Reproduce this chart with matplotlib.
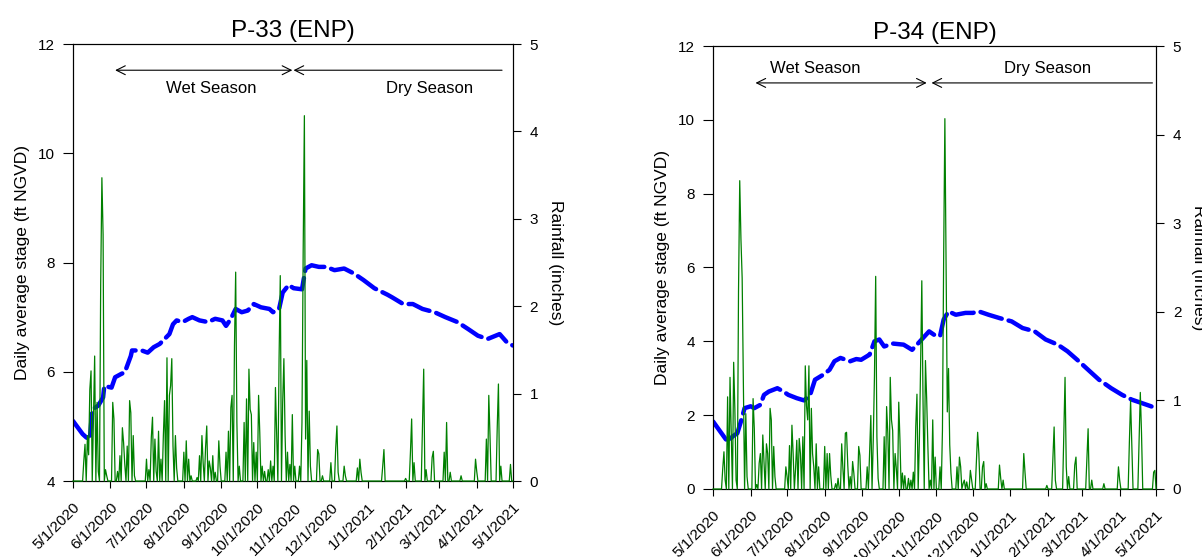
import matplotlib
matplotlib.use("Agg")
import matplotlib.pyplot as plt
import numpy as np
import pandas as pd

plt.rcParams["font.family"] = ["Liberation Sans", "DejaVu Sans"]

START = pd.Timestamp("2020-05-01")
END = pd.Timestamp("2021-05-01")

tick_labels = ["5/1/2020", "6/1/2020", "7/1/2020", "8/1/2020", "9/1/2020",
               "10/1/2020", "11/1/2020", "12/1/2020", "1/1/2021", "2/1/2021",
               "3/1/2021", "4/1/2021", "5/1/2021"]

# ---- P-33: daily average stage (ft NGVD), read at days since 5/1/2020 ----
p33_stage_day = [0, 8, 11, 14, 16, 21, 25, 26, 32, 35, 40, 43, 48, 49, 57, 62, 67,
                 72, 80, 83, 86, 91, 96, 99, 105, 112, 118, 124, 127, 131, 135, 140,
                 145, 150, 156, 163, 166, 171, 174, 179, 183, 190, 193, 198, 204, 210,
                 217, 225, 233, 241, 250, 261, 265, 274, 282, 290, 300, 309, 319, 328,
                 336, 344, 354, 360, 365]
p33_stage_ft = [5.10, 4.86, 4.80, 4.76, 5.31, 5.38, 5.53, 5.74, 5.71, 5.90, 5.96, 5.99,
                6.29, 6.39, 6.39, 6.35, 6.45, 6.51, 6.69, 6.87, 6.94, 6.91, 6.97, 7.00,
                6.94, 6.91, 6.97, 6.94, 6.84, 6.97, 7.15, 7.09, 7.12, 7.24, 7.18, 7.15,
                7.09, 7.15, 7.45, 7.59, 7.53, 7.51, 7.89, 7.95, 7.92, 7.92, 7.86, 7.89,
                7.80, 7.68, 7.53, 7.41, 7.36, 7.24, 7.24, 7.15, 7.09, 7.00, 6.91, 6.78,
                6.66, 6.60, 6.69, 6.54, 6.48]

# ---- P-33: rainfall (inches), non-zero days only ----
p33_rain_day = [9, 10, 12, 13, 14, 15, 17, 18, 20, 21, 23, 24, 25, 27, 28, 33, 34, 37,
                39, 41, 42, 43, 45, 47, 48, 50, 51, 61, 63, 65, 66, 68, 69, 71, 73, 75,
                76, 78, 80, 81, 82, 83, 85, 86, 92, 94, 96, 98, 103, 105, 107, 108, 110,
                111, 113, 114, 116, 118, 121, 122, 127, 129, 131, 132, 134, 135, 136,
                138, 142, 144, 146, 147, 148, 150, 152, 154, 155, 157, 159, 162, 164,
                166, 168, 169, 171, 172, 174, 175, 176, 178, 180, 182, 184, 188, 190,
                191, 192, 193, 194, 196, 197, 203, 204, 207, 214, 218, 219, 220, 225,
                226, 236, 238, 239, 257, 258, 276, 280, 281, 283, 290, 291, 293, 298,
                299, 308, 310, 313, 322, 334, 335, 343, 345, 346, 352, 353, 355, 363]
p33_rain_in = [0.23, 0.42, 0.52, 0.30, 1.05, 1.26, 0.71, 1.43, 0.90, 0.11, 2.25, 3.47,
               2.82, 0.13, 0.06, 0.90, 0.71, 0.11, 0.29, 0.61, 0.44, 0.19, 0.40, 0.92,
               0.78, 0.52, 0.06, 0.25, 0.13, 0.50, 0.73, 0.48, 0.11, 0.57, 0.25, 0.52,
               0.92, 1.41, 0.98, 1.09, 1.40, 0.40, 0.52, 0.15, 0.33, 0.46, 0.25, 0.06,
               0.04, 0.29, 0.52, 0.21, 0.38, 0.63, 0.23, 0.15, 0.29, 0.10, 0.46, 0.17,
               0.33, 0.57, 0.84, 0.98, 1.55, 2.39, 0.67, 0.17, 0.67, 0.94, 1.28, 0.82,
               0.76, 0.44, 0.33, 0.98, 0.55, 0.17, 0.11, 0.13, 0.23, 0.17, 1.07, 0.55,
               1.40, 2.35, 0.90, 1.40, 0.52, 0.33, 0.19, 0.76, 0.17, 0.17, 0.67, 2.62,
               4.18, 0.48, 1.38, 0.80, 0.17, 0.36, 0.31, 0.06, 0.21, 0.38, 0.63, 0.10,
               0.17, 0.06, 0.15, 0.25, 0.10, 0.17, 0.36, 0.03, 0.33, 0.71, 0.21, 0.67,
               1.28, 0.13, 0.27, 0.34, 0.33, 0.67, 0.10, 0.06, 0.25, 0.11, 0.48, 0.98,
               0.52, 0.61, 1.11, 0.17, 0.19]

# ---- P-34: daily average stage (ft NGVD) ----
p34_stage_day = [0, 5, 12, 16, 20, 23, 26, 31, 34, 39, 42, 46, 53, 58, 62, 69, 75, 80,
                 84, 91, 96, 100, 105, 113, 118, 122, 129, 133, 137, 141, 148, 157, 164,
                 168, 173, 178, 182, 187, 190, 194, 200, 208, 214, 219, 227, 236, 246,
                 255, 265, 274, 284, 292, 300, 309, 318, 328, 337, 345, 353, 360, 365]
p34_stage_ft = [1.83, 1.60, 1.28, 1.42, 1.51, 1.83, 2.19, 2.24, 2.19, 2.28, 2.55, 2.64,
                2.73, 2.64, 2.55, 2.46, 2.40, 2.55, 2.96, 3.10, 3.23, 3.46, 3.55, 3.46,
                3.52, 3.50, 3.64, 4.00, 4.05, 3.86, 3.94, 3.91, 3.77, 3.91, 4.09, 4.27,
                4.18, 4.14, 4.59, 4.81, 4.72, 4.77, 4.77, 4.81, 4.72, 4.63, 4.54, 4.36,
                4.27, 4.05, 3.91, 3.73, 3.50, 3.23, 2.96, 2.73, 2.55, 2.42, 2.33, 2.25,
                2.19]

# ---- P-34: rainfall (inches), non-zero days only ----
p34_rain_day = [8, 9, 10, 12, 14, 15, 17, 18, 19, 21, 22, 23, 24, 25, 27, 28, 33, 34,
                36, 38, 39, 41, 42, 44, 45, 47, 48, 50, 51, 60, 61, 63, 65, 66, 68, 69,
                71, 72, 74, 76, 77, 78, 79, 81, 82, 83, 85, 87, 92, 94, 96, 97, 101,
                103, 106, 107, 109, 110, 111, 113, 115, 116, 120, 121, 127, 129, 130,
                132, 133, 134, 135, 136, 141, 143, 144, 146, 147, 148, 150, 151, 153,
                154, 156, 158, 161, 163, 165, 167, 168, 170, 171, 172, 173, 175, 176,
                177, 179, 181, 183, 187, 189, 190, 191, 192, 193, 194, 195, 196, 201,
                203, 204, 206, 207, 209, 212, 213, 217, 218, 219, 222, 223, 225, 236,
                237, 239, 256, 257, 275, 280, 281, 282, 289, 290, 291, 293, 298, 299,
                308, 309, 312, 322, 334, 335, 343, 344, 345, 351, 352, 353, 363, 364]
p34_rain_in = [0.23, 0.42, 0.10, 1.04, 1.26, 0.61, 1.43, 0.89, 0.10, 2.23, 3.48, 2.82,
               2.38, 1.24, 0.85, 0.14, 1.02, 0.68, 0.05, 0.29, 0.40, 0.61, 0.31, 0.51,
               0.40, 0.91, 0.78, 0.48, 0.14, 0.25, 0.14, 0.49, 0.72, 0.40, 0.23, 0.55,
               0.57, 0.40, 0.59, 1.39, 0.94, 0.78, 1.39, 0.91, 0.40, 0.25, 0.51, 0.25,
               0.48, 0.40, 0.40, 0.15, 0.06, 0.12, 0.51, 0.23, 0.63, 0.64, 0.27, 0.14,
               0.31, 0.18, 0.48, 0.38, 0.25, 0.40, 0.83, 0.55, 1.28, 2.40, 0.59, 0.12,
               0.59, 0.93, 0.63, 1.26, 0.78, 0.66, 0.40, 0.23, 0.98, 0.55, 0.18, 0.15,
               0.12, 0.10, 0.19, 0.70, 1.07, 0.55, 1.39, 2.35, 1.00, 1.45, 1.02, 0.48,
               0.10, 0.78, 0.36, 0.25, 0.66, 2.62, 4.18, 2.57, 0.87, 1.36, 0.50, 0.18,
               0.25, 0.36, 0.25, 0.06, 0.10, 0.08, 0.21, 0.10, 0.33, 0.64, 0.40, 0.25,
               0.31, 0.06, 0.27, 0.12, 0.10, 0.40, 0.19, 0.04, 0.34, 0.70, 0.10, 0.64,
               1.26, 0.25, 0.14, 0.27, 0.36, 0.33, 0.68, 0.10, 0.06, 0.25, 0.10, 0.53,
               1.00, 0.48, 0.55, 1.09, 0.63, 0.19, 0.21]


def to_dates(days):
    return START + pd.to_timedelta(np.asarray(days), unit="D")


def day(d):
    return START + pd.Timedelta(days=d)


def daily_rain(days, vals):
    n = (END - START).days + 1
    r = np.zeros(n)
    r[np.asarray(days)] = vals
    return to_dates(np.arange(n)), r


def panel(ax, title, stage_day, stage_ft, rain_day, rain_in, ylim, yticks,
          wet, dry, y_arrow, wet_text, dry_text):
    ax.plot(to_dates(stage_day), stage_ft, color="#0000ff", lw=3.2,
            linestyle=(0, (5, 1.6)), dash_capstyle="round", zorder=2)
    ax.set_xlim(START, END)
    ax.set_ylim(*ylim)
    ax.set_yticks(yticks)
    ax.set_yticklabels([str(t) for t in yticks])
    ticks = pd.to_datetime(tick_labels, format="%m/%d/%Y")
    ax.set_xticks(ticks)
    ax.set_xticklabels(tick_labels, rotation=45, ha="right",
                       rotation_mode="anchor")
    ax.tick_params(axis="x", length=5, width=0.8, labelsize=11, pad=9)
    ax.tick_params(axis="y", length=7, width=0.8, labelsize=11, pad=6)
    ax.set_ylabel("Daily average stage (ft NGVD)", fontsize=12.5, labelpad=6)
    ax.set_title(title, fontsize=17.5, pad=5)
    for s in ax.spines.values():
        s.set_linewidth(0.8)

    # season arrows and labels
    arrow = dict(lw=0.8, color="black", shrinkA=0, shrinkB=0, mutation_scale=16)
    ax.annotate("", xy=(day(wet[0]), y_arrow), xytext=(day(wet[1]), y_arrow),
                arrowprops=dict(arrowstyle="<->", **arrow))
    ax.annotate("", xy=(day(dry[0]), y_arrow), xytext=(day(dry[1]), y_arrow),
                arrowprops=dict(arrowstyle="->", **arrow))
    ax.text(day(wet_text[0]), wet_text[1], "Wet Season",
            ha="center", va="center", fontsize=12)
    ax.text(day(dry_text[0]), dry_text[1], "Dry Season",
            ha="center", va="center", fontsize=12)

    ax2 = ax.twinx()
    d, r = daily_rain(rain_day, rain_in)
    ax2.plot(d, r, color="#008000", lw=0.9, zorder=3, clip_on=False)
    ax2.set_xlim(START, END)
    ax2.set_ylim(0, 5)
    ax2.set_yticks([0, 1, 2, 3, 4, 5])
    ax2.tick_params(axis="y", length=6, width=0.8, labelsize=11, pad=6)
    ax2.set_ylabel("Rainfall (inches)", fontsize=12.5, rotation=270,
                   va="bottom", labelpad=7)
    for s in ax2.spines.values():
        s.set_linewidth(0.8)
    return ax2


fig = plt.figure(figsize=(12.02, 5.57), dpi=100)
ax_l = fig.add_axes([0.0607, 0.1364, 0.366, 0.7846])
ax_r = fig.add_axes([0.5932, 0.1221, 0.3686, 0.7953])

panel(ax_l, "P-33 (ENP)", p33_stage_day, p33_stage_ft, p33_rain_day, p33_rain_in,
      (4, 12), [4, 6, 8, 10, 12], wet=(35, 182), dry=(183, 356), y_arrow=11.52,
      wet_text=(115, 11.19), dry_text=(296, 11.19))
panel(ax_r, "P-34 (ENP)", p34_stage_day, p34_stage_ft, p34_rain_day, p34_rain_in,
      (0, 12), [0, 2, 4, 6, 8, 10, 12], wet=(35, 176), dry=(180, 362), y_arrow=11.0,
      wet_text=(84, 11.4), dry_text=(276, 11.4))

fig.savefig("out.png", dpi=100)
